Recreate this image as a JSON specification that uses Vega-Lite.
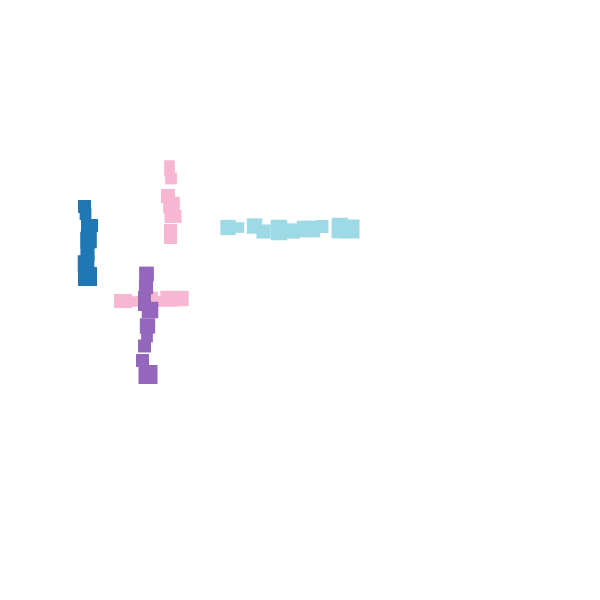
{
  "$schema": "https://vega.github.io/schema/vega-lite/v6.json",
  "width": 600,
  "height": 600,
  "autosize": {"type": "fit", "contains": "padding"},
  "padding": 0,
  "background": "white",
  "config": {"view": {"stroke": null}},
  "data": {"values": [
    {"x": 84.5, "y": 206.5, "area": 110, "g": "A"},
    {"x": 85.5, "y": 214, "area": 90, "g": "A"},
    {"x": 87.5, "y": 225.5, "area": 110, "g": "A"},
    {"x": 91.5, "y": 225.5, "area": 110, "g": "A"},
    {"x": 88.5, "y": 240, "area": 182, "g": "A"},
    {"x": 87.5, "y": 254.5, "area": 132, "g": "A"},
    {"x": 86, "y": 263.5, "area": 182, "g": "A"},
    {"x": 87.5, "y": 276.5, "area": 240, "g": "A"},
    {"x": 169.5, "y": 165.5, "area": 72, "g": "C"},
    {"x": 169.5, "y": 171.5, "area": 72, "g": "C"},
    {"x": 171, "y": 178.5, "area": 90, "g": "C"},
    {"x": 168, "y": 196, "area": 132, "g": "C"},
    {"x": 171.5, "y": 205, "area": 182, "g": "C"},
    {"x": 171, "y": 216.5, "area": 110, "g": "C"},
    {"x": 175, "y": 216.5, "area": 110, "g": "C"},
    {"x": 170.5, "y": 230.5, "area": 110, "g": "C"},
    {"x": 170.5, "y": 237.5, "area": 110, "g": "C"},
    {"x": 121, "y": 301, "area": 132, "g": "C"},
    {"x": 125, "y": 301, "area": 132, "g": "C"},
    {"x": 135.5, "y": 301.5, "area": 72, "g": "C"},
    {"x": 152, "y": 297.5, "area": 90, "g": "C"},
    {"x": 155, "y": 301.5, "area": 72, "g": "C"},
    {"x": 163, "y": 301.5, "area": 72, "g": "C"},
    {"x": 172, "y": 301.5, "area": 72, "g": "C"},
    {"x": 168, "y": 298.5, "area": 156, "g": "C"},
    {"x": 181, "y": 298.5, "area": 156, "g": "C"},
    {"x": 146.5, "y": 274, "area": 144, "g": "B"},
    {"x": 146, "y": 287, "area": 132, "g": "B"},
    {"x": 144.5, "y": 297.5, "area": 110, "g": "B"},
    {"x": 144.5, "y": 304.5, "area": 110, "g": "B"},
    {"x": 150, "y": 310, "area": 182, "g": "B"},
    {"x": 147.5, "y": 326, "area": 156, "g": "B"},
    {"x": 147, "y": 336.5, "area": 90, "g": "B"},
    {"x": 144.5, "y": 346, "area": 110, "g": "B"},
    {"x": 142.5, "y": 360.5, "area": 110, "g": "B"},
    {"x": 148, "y": 374.5, "area": 240, "g": "B"},
    {"x": 228, "y": 227.5, "area": 156, "g": "D"},
    {"x": 239, "y": 227.5, "area": 72, "g": "D"},
    {"x": 254.5, "y": 226, "area": 156, "g": "D"},
    {"x": 263.5, "y": 231.5, "area": 132, "g": "D"},
    {"x": 279, "y": 228, "area": 182, "g": "D"},
    {"x": 279, "y": 232, "area": 182, "g": "D"},
    {"x": 292.5, "y": 231, "area": 156, "g": "D"},
    {"x": 305, "y": 229, "area": 182, "g": "D"},
    {"x": 312, "y": 229, "area": 182, "g": "D"},
    {"x": 322, "y": 226.5, "area": 110, "g": "D"},
    {"x": 350, "y": 229, "area": 240, "g": "D"},
    {"x": 340, "y": 226, "area": 182, "g": "D"},
    {"x": 340, "y": 230, "area": 182, "g": "D"}
  ]},
  "mark": {"type": "point", "shape": "square", "filled": true, "opacity": 1, "strokeWidth": 0},
  "encoding": {
    "x": {"field": "x", "type": "quantitative", "scale": {"domain": [0, 600], "nice": false, "zero": false}, "axis": null},
    "y": {"field": "y", "type": "quantitative", "scale": {"domain": [600, 0], "nice": false, "zero": false}, "axis": null},
    "size": {"field": "area", "type": "quantitative", "scale": {"type": "identity"}, "legend": null},
    "color": {"field": "g", "type": "nominal", "scale": {"domain": ["A", "B", "C", "D"], "range": ["#1f77b4", "#9467bd", "#f7b6d2", "#9edae5"]}, "legend": null}
  }
}
